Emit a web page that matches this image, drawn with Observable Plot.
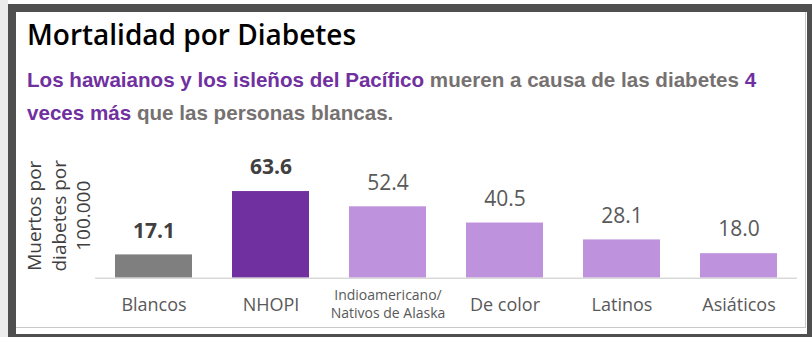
<!DOCTYPE html>
<html><head><meta charset="utf-8">
<script src="https://cdn.jsdelivr.net/npm/d3@7"></script>
<script src="https://cdn.jsdelivr.net/npm/@observablehq/plot@0.6"></script>
<style>
body{margin:0;width:812px;height:337px;overflow:hidden;background:#fff;position:relative}
#strip{position:absolute;left:0;top:0;width:8px;height:337px;background:#ececec}
#frame{position:absolute;left:8px;top:4px;width:804px;height:333px;box-sizing:border-box;
  border-style:solid;border-color:#4f4f4f;border-width:8px 5px 3px 8px;background:#fff}
#hline{position:absolute;left:16px;top:327px;width:790px;height:1px;background:#c9c9c9}
#vline{position:absolute;left:805px;top:12px;width:1px;height:316px;background:#c9c9c9}
#title{position:absolute;left:27px;top:20px;font:600 28px/1 "Open Sans",sans-serif;color:#000;white-space:nowrap}
#sub{position:absolute;left:27px;top:63px;width:780px;font:bold 20.6px/33px "Liberation Sans",Arial,sans-serif;color:#767171;white-space:nowrap}
#sub .p{color:#7030a0}
#ytitle{position:absolute;left:-11.5px;top:179px;width:140px;height:73.5px;text-align:center;
  font:19px/24.5px "Open Sans",sans-serif;color:#404040;transform:rotate(-90deg);white-space:nowrap}
#chart{position:absolute;left:16px;top:140px}
</style></head><body>
<div id="strip"></div>
<div id="frame"></div>
<div id="hline"></div>
<div id="vline"></div>
<div id="title">Mortalidad por Diabetes</div>
<div id="sub"><span class="p">Los hawaianos y los isleños del Pacífico</span> mueren a causa de las diabetes <span class="p">4</span><br><span class="p">veces más</span> que las personas blancas.</div>
<div id="ytitle">Muertos por<br>diabetes por<br>100.000</div>
<div id="chart"></div>
<script>
// Data
const categories = ["Blancos", "NHOPI", "Indioamericano/\nNativos de Alaska", "De color", "Latinos", "Asiáticos"];
const values = [17.1, 63.6, 52.4, 40.5, 28.1, 18.0];
const valueLabels = ["17.1", "63.6", "52.4", "40.5", "28.1", "18.0"];
const barColors = ["#7f7f7f", "#7030a0", "#bf92de", "#bf92de", "#bf92de", "#bf92de"];
const boldLabel = [true, true, false, false, false, false];

const data = categories.map((c, i) => ({cat: c, value: values[i], label: valueLabels[i], color: barColors[i], bold: boldLabel[i]}));
const font = "Open Sans";

const plot = Plot.plot({
  width: 789,
  height: 187,
  marginLeft: 79,
  marginRight: 8,
  marginTop: 28.7,
  marginBottom: 49.3,
  style: {fontFamily: font, background: "transparent", overflow: "visible"},
  x: {domain: categories, paddingInner: 0.34, paddingOuter: 0.17, axis: null},
  y: {domain: [0, 80], axis: null},
  marks: [
    Plot.barY(data, {x: "cat", y: "value", fill: "color"}),
    Plot.ruleY([0], {stroke: "#d9d9d9", strokeWidth: 1.5}),
    Plot.text(data.filter(d => d.bold), {x: "cat", y: "value", text: "label", dy: -24, lineAnchor: "middle",
      fontSize: 21, fontWeight: "bold", fill: "#404040"}),
    Plot.text(data.filter(d => !d.bold), {x: "cat", y: "value", text: "label", dy: -24, lineAnchor: "middle",
      fontSize: 21, fill: "#595959"}),
    Plot.text(data.filter(d => !d.cat.includes("\n")), {x: "cat", y: 0, text: "cat", dy: 27.3, lineAnchor: "middle",
      fontSize: 18, fill: "#595959"}),
    Plot.text(data.filter(d => d.cat.includes("\n")), {x: "cat", y: 0, text: "cat", dy: 25.2, lineAnchor: "middle",
      fontSize: 14, lineHeight: 1.26, fill: "#595959"})
  ]
});
document.getElementById("chart").appendChild(plot);
</script>
</body></html>
